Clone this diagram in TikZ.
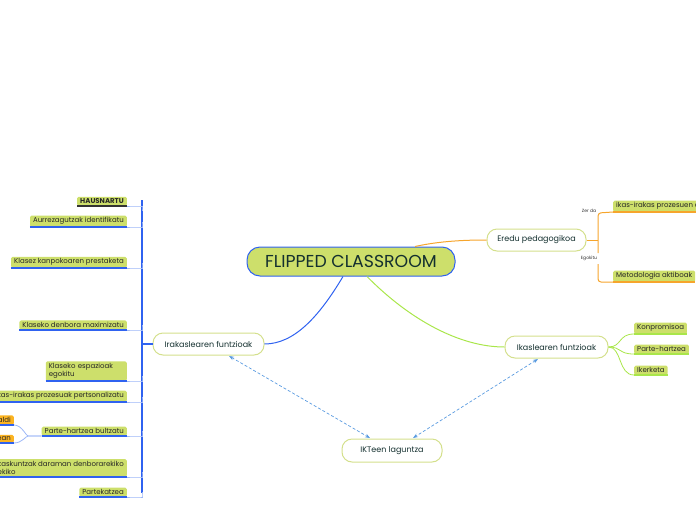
\documentclass[tikz,border=0pt]{standalone}
\usepackage{fontspec}
\setmainfont{Poppins}
\usetikzlibrary{arrows.meta}
\definecolor{leafg}{HTML}{CDDF6B}
\definecolor{tblue}{HTML}{2F62F0}
\definecolor{lblue}{HTML}{9DB7F7}
\definecolor{orng}{HTML}{F6A52C}
\definecolor{orngbox}{HTML}{FBB321}
\definecolor{lgreen}{HTML}{A9E64A}
\definecolor{mborder}{HTML}{D4E08C}
\definecolor{dashc}{HTML}{5A9BE0}
\definecolor{txt}{HTML}{14302F}
\tikzset{
  leaf/.style={fill=leafg, rounded corners=1.5pt, inner xsep=3pt, inner ysep=2pt, font=\fontsize{7}{8.2}\selectfont, text=black!85},
  obox/.style={fill=orngbox, rounded corners=1.5pt, inner xsep=3pt, inner ysep=2pt, font=\fontsize{7}{8.2}\selectfont, text=black!85},
  mainbox/.style={draw=mborder, line width=1pt, fill=white, rounded corners=10pt, minimum height=22pt, font=\fontsize{8}{9}\selectfont, text=txt},
  ul/.style={tblue, line width=1.5pt},
  conn/.style={lblue, line width=0.8pt, rounded corners=5pt},
  dsh/.style={dashc, dash pattern=on 3pt off 2pt, line width=0.7pt, {Stealth[length=5pt]}-{Stealth[length=5pt]}},
  small/.style={font=\fontsize{4.5}{5}\selectfont, text=black!80}
}
\begin{document}
\begin{tikzpicture}[x=1pt,y=-1pt]
\useasboundingbox (0,0) rectangle (696,520);
% central
\node[draw=tblue, line width=1pt, fill=leafg, rounded corners=13pt, minimum width=208pt, minimum height=29pt, font=\fontsize{17.3}{19}\selectfont, text=txt] (fc) at (351,261.5) {FLIPPED CLASSROOM};
\node[mainbox, minimum width=111pt] (ira) at (208.5,344) {Irakaslearen funtzioak};
\node[mainbox, minimum width=99pt] (ere) at (536.5,240) {Eredu pedagogikoa};
\node[mainbox, minimum width=103pt] (ika) at (556.5,347) {Ikaslearen funtzioak};
\node[mainbox, minimum width=100pt, minimum height=23pt] (ikt) at (392,450.5) {IKTeen laguntza};
% main connectors
\draw[tblue, line width=1pt] (343,276.5) .. controls (320,315) and (295,344) .. (ira.east);
\draw[lgreen, line width=1pt] (367,276.5) .. controls (410,320) and (460,347) .. (ika.west);
\draw[orng, line width=1pt] (415,246.5) .. controls (440,241) and (465,240) .. (ere.west);
% dashed
\coordinate (a1) at (229,356);
\coordinate (a2) at (370,438);
\coordinate (b1) at (538,359);
\coordinate (b2) at (413,438);
\draw[dsh] (a1) -- (a2);
\draw[dsh] (b1) -- (b2);
% left leaves
\node[leaf, font=\fontsize{7}{8.2}\selectfont\bfseries, anchor=south east] (h) at (127,206) {HAUSNARTU};
\node[leaf, anchor=south east] (l1) at (127,227) {Aurrezagutzak identifikatu};
\node[leaf, anchor=south east] (l2) at (127,268) {Klasez kanpokoaren prestaketa};
\node[leaf, anchor=south east] (l3) at (127,330) {Klaseko denbora maximizatu};
\node[leaf, anchor=south east, align=left, text width=75pt] (l4) at (127,381) {Klaseko espazioak\\egokitu};
\node[leaf, anchor=south east] (l5) at (127,402) {ikas-irakas prozesuak pertsonalizatu};
\node[leaf, anchor=south east] (l6) at (127,436) {Parte-hartzea bultzatu};
\node[leaf, anchor=south east, align=left] (l7) at (127,477) {kaskuntzak daraman denborarekiko\\ekiko};
\node[leaf, anchor=south east] (l8) at (127,497) {Partekatzea};
\node[obox, anchor=south east] (o1) at (14,425) {aldi};
\node[obox, anchor=south east] (o2) at (14,443) {ean};
\draw[tblue, line width=1.2pt] (142,200) -- (142,493);
\draw[tblue, line width=1.6pt] (142,344) -- (ira.west);
\foreach \n in {l1,l2,l3,l4,l5,l6,l7,l8}{
  \draw[conn] (\n.south east) -- (137,0 |- \n.south east) .. controls (142,0 |- \n.south east) .. ([yshift=5pt]142,0 |- \n.south east);
  \draw[ul] (\n.south west) -- (\n.south east);
}
\draw[conn] (h.south east) -- (137,206) .. controls (142,206) .. (142,211);
\draw[black!80, line width=1.5pt] (h.south west) -- (h.south east);
\draw[conn] (l6.south west) -- (33,436) .. controls (26,436) and (22,425) .. (o1.south east);
\draw[conn] (l6.south west) -- (33,436) .. controls (26,436) and (22,443) .. (o2.south east);
\draw[ul] (o1.south west) -- (o1.south east);
\draw[ul] (o2.south west) -- (o2.south east);
% right top
\node[leaf, anchor=south west] (r1) at (613,212) {ikas-irakas prozesuen e};
\node[leaf, anchor=south west] (r2) at (613,282) {Metodologia aktiboak};
\draw[orng, line width=1pt] (ere.east) -- (598,240);
\draw[orng, line width=1pt, rounded corners=3pt] (598,253) -- (598,213) -- (r1.south west);
\draw[orng, line width=1pt, rounded corners=3pt] (598,264) -- (598,282) -- (r2.south west);
\draw[orng, line width=1.5pt] (r1.south west) -- (r1.south east);
\draw[orng, line width=1.5pt] (r2.south west) -- (r2.south east);
\node[small] (zd) at (589,211) {Zer da};
\node[small] (eg) at (589,258) {Egokitu};
% right bottom
\node[leaf, anchor=south west] (k1) at (634,334) {Konpromisoa};
\node[leaf, anchor=south west] (k2) at (634,354) {Parte-hartzea};
\node[leaf, anchor=south west] (k3) at (634,375) {Ikerketa};
\foreach \n in {k1,k2,k3}{
  \draw[lgreen, line width=0.8pt] (ika.east) .. controls (622,347) and (618,0 |- \n.south west) .. (\n.south west);
  \draw[lgreen, line width=1.5pt] (\n.south west) -- (\n.south east);
}
\end{tikzpicture}
\end{document}
